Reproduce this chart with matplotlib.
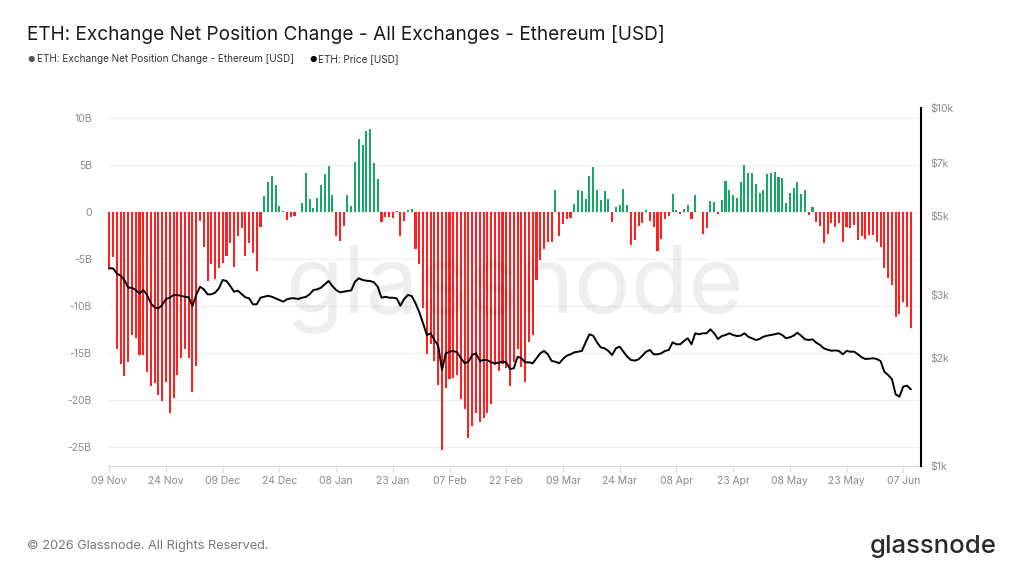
import matplotlib
matplotlib.use("Agg")
import matplotlib.pyplot as plt
import numpy as np
import pandas as pd

# ---------------- data ----------------
start_date = "2025-11-09"

net_change_b = [
    -6.0, -4.75, -14.6, -16.2, -17.4, -15.9, -13.1, -13.4, -15.2, -15.2,
    -17.0, -18.5, -18.2, -19.4, -20.1, -18.1, -21.4, -19.8, -17.3, -15.5,
    -14.6, -15.5, -19.1, -16.4, -1.0, -3.7, -7.3, -5.5, -7.1, -6.0,
    -5.4, -4.7, -3.3, -5.8, -2.6, -1.7, -4.7, -3.3, -4.4, -6.3,
    -1.6, 1.7, 3.2, 3.8, 2.9, 0.6, 0.1, -0.85, -0.5, -0.4,
    0.0, 1.0, 4.2, 1.35, 0.45, 1.5, 2.9, 4.0, 4.9, 1.8,
    -2.5, -3.05, -1.45, 1.8, 0.64, 5.35, 7.8, 7.1, 8.6, 8.8,
    5.2, 3.5, -1.1, -0.5, -0.5, -0.6, 0.1, -2.55, -1.0, 0.2,
    0.3, -3.9, -5.55, -10.2, -15.1, -14.0, -15.8, -18.4, -25.3, -18.7,
    -17.7, -17.6, -17.3, -19.9, -20.9, -24.0, -22.7, -21.4, -22.3, -21.95,
    -21.4, -20.4, -16.3, -16.9, -16.2, -16.6, -18.5, -15.9, -14.6, -16.5,
    -18.1, -13.8, -13.1, -7.2, -5.1, -3.9, -3.15, -3.2, 2.3, -2.5,
    -1.3, -0.7, -0.6, 0.9, 2.3, 2.2, 1.4, 3.85, 4.8, 2.3,
    1.3, 2.2, 1.4, -1.05, 0.5, 0.7, 2.4, 0.8, -3.55, -3.0,
    -1.45, -1.15, 0.2, -0.95, -1.6, -4.1, -2.9, -0.75, -0.4, 1.95,
    0.2, -0.25, 0.3, 0.75, -0.7, 1.8, 0.0, -2.3, -1.75, 1.2,
    1.1, -0.25, 1.25, 3.25, 2.35, 1.85, 1.5, 3.2, 5.05, 4.1,
    4.2, 3.0, 2.0, 2.3, 4.0, 4.2, 4.3, 3.75, 3.65, 1.0,
    2.05, 2.6, 3.15, 1.9, 2.35, -0.3, 0.5, -1.1, -1.5, -3.3,
    -2.3, -1.2, -1.55, -1.2, -3.15, -1.55, -1.65, -1.4, -3.0, -2.6,
    -2.9, -2.4, -2.4, -3.2, -3.7, -5.9, -7.0, -7.8, -11.2, -10.8,
    -9.6, -10.1, -12.3,
]

price_usd = [
    3565, 3565, 3450, 3400, 3308, 3148, 3148, 3102, 3035, 3102,
    3004, 2848, 2774, 2757, 2817, 2928, 2952, 3004, 3004, 2985,
    2970, 2960, 2800, 3004, 3168, 3115, 3017, 3017, 3049, 3136,
    3308, 3287, 3183, 3068, 3088, 3022, 2959, 2940, 2829, 2829,
    2952, 2971, 2990, 2970, 2940, 2909, 2877, 2922, 2940, 2940,
    2928, 2952, 2966, 3017, 3102, 3115, 3148, 3218, 3287, 3183,
    3102, 3056, 3068, 3082, 3095, 3272, 3345, 3308, 3293, 3287,
    3259, 3168, 2952, 2970, 2952, 2952, 2940, 2804, 2928, 3004,
    2985, 2848, 2688, 2504, 2322, 2348, 2249, 2168, 1854, 2064,
    2086, 2096, 2077, 2000, 1936, 1956, 2042, 2064, 1965, 1977,
    1977, 1948, 1936, 1944, 1956, 1948, 1866, 1875, 2020, 2000,
    1948, 1948, 1936, 2000, 2064, 2096, 2051, 1965, 1956, 1936,
    1990, 2033, 2051, 2077, 2086, 2096, 2215, 2333, 2312, 2215,
    2145, 2132, 2096, 2042, 2132, 2154, 2086, 2020, 1977, 1970,
    1986, 2033, 2086, 2109, 2051, 2051, 2064, 2096, 2109, 2215,
    2188, 2188, 2234, 2274, 2188, 2348, 2333, 2348, 2348, 2409,
    2348, 2263, 2307, 2322, 2348, 2322, 2307, 2312, 2348, 2297,
    2274, 2249, 2263, 2297, 2312, 2322, 2333, 2348, 2322, 2274,
    2288, 2312, 2357, 2312, 2259, 2249, 2259, 2210, 2178, 2132,
    2113, 2099, 2103, 2096, 2051, 2096, 2086, 2086, 2051, 2012,
    1990, 1994, 2000, 1990, 1965, 1834, 1796, 1750, 1585, 1562,
    1666, 1677, 1638,
]

x_tick_labels = ["09 Nov", "24 Nov", "09 Dec", "24 Dec", "08 Jan", "23 Jan", "07 Feb",
                 "22 Feb", "09 Mar", "24 Mar", "08 Apr", "23 Apr", "08 May", "23 May", "07 Jun"]
left_ticks = [10, 5, 0, -5, -10, -15, -20, -25]
left_tick_labels = ["10B", "5B", "0", "-5B", "-10B", "-15B", "-20B", "-25B"]
right_ticks = [1000, 2000, 3000, 5000, 7000, 10000]
right_tick_labels = ["$1k", "$2k", "$3k", "$5k", "$7k", "$10k"]

# ---------------- styling ----------------
plt.rcParams['font.family'] = ['Inter', 'DejaVu Sans']
RED = "#ff1f1f"
GREEN = "#17a865"
GRAY = "#8a8a8a"

dates = pd.date_range(start_date, periods=len(net_change_b), freq="D")
vals = np.array(net_change_b)
colors = [GREEN if v > 0 else RED for v in vals]

fig = plt.figure(figsize=(10.24, 5.76), dpi=100)
ax = fig.add_axes([107 / 1024, 1 - 466 / 576, (921 - 107) / 1024, (466 - 108) / 576])

ax.bar(dates, vals, width=0.55, color=colors, zorder=2)
ax.set_ylim(-27.0, 11.06)
ax.set_yticks(left_ticks)
ax.set_yticklabels(left_tick_labels)
ax.grid(axis="y", color="#efefef", linewidth=0.8, zorder=0)
ax.set_axisbelow(True)

x0 = pd.Timestamp(start_date)
ax.set_xlim(x0 - pd.Timedelta(days=0.6), x0 + pd.Timedelta(days=214.7))
tick_dates = [x0 + pd.Timedelta(days=15 * k) for k in range(len(x_tick_labels))]
ax.set_xticks(tick_dates)
ax.set_xticklabels(x_tick_labels)

for s in ["top", "left", "right"]:
    ax.spines[s].set_visible(False)
ax.spines["bottom"].set_color("#d9d9d9")
ax.tick_params(axis="y", length=0, labelsize=7.5, labelcolor=GRAY, pad=11)
ax.tick_params(axis="x", length=4, color="#d9d9d9", labelsize=7.5, labelcolor=GRAY, pad=3)

ax2 = ax.twinx()
ax2.plot(dates, price_usd, color="black", linewidth=1.4, zorder=3)
ax2.set_yscale("log")
ax2.set_ylim(1000, 10000)
ax2.set_yticks(right_ticks)
ax2.set_yticklabels(right_tick_labels)
ax2.yaxis.set_minor_locator(matplotlib.ticker.NullLocator())
for s in ["top", "left", "bottom"]:
    ax2.spines[s].set_visible(False)
ax2.spines["right"].set_color("black")
ax2.spines["right"].set_linewidth(1.5)
ax2.tick_params(axis="y", length=0, labelsize=7.5, labelcolor=GRAY, pad=7)

# watermark
fig.text(515 / 1024, 1 - 290 / 576, "glassnode", fontsize=68, color="#000000", alpha=0.065,
         ha="center", va="center", zorder=10)

# title & legend
fig.text(27 / 1024, 1 - 35 / 576, "ETH: Exchange Net Position Change - All Exchanges - Ethereum [USD]",
         fontsize=13.7, color="#1a1a1a", ha="left", va="center")
fig.text(27 / 1024, 1 - 59 / 576, "\u25CF", fontsize=6, color="#555555", ha="left", va="center")
fig.text(37 / 1024, 1 - 59 / 576, "ETH: Exchange Net Position Change - Ethereum [USD]",
         fontsize=7.2, color="#333333", ha="left", va="center")
fig.text(309 / 1024, 1 - 59 / 576, "\u25CF", fontsize=6, color="#000000", ha="left", va="center")
fig.text(318 / 1024, 1 - 59 / 576, "ETH: Price [USD]",
         fontsize=7.2, color="#333333", ha="left", va="center")

# footer
fig.text(27 / 1024, 1 - 546 / 576, "\u00A9 2026 Glassnode. All Rights Reserved.",
         fontsize=9.2, color="#777777", ha="left", va="center")
fig.text(997 / 1024, 1 - 546 / 576, "glassnode", fontsize=18.5, color="#2a2a2a",
         ha="right", va="center", fontweight="medium")

fig.savefig("out.png", dpi=100)
